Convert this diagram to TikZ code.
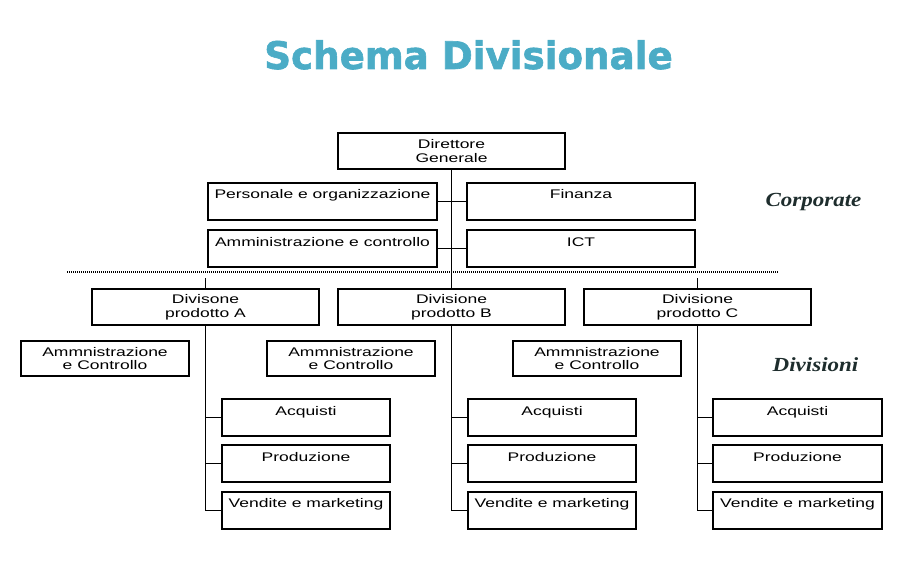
\documentclass[tikz,border=0pt]{standalone}
\usepackage{fontspec}
\setmainfont{Liberation Sans}
\newfontfamily\boxfont[FakeStretch=1.4]{Liberation Sans}
\newfontfamily\titlefont[BoldFeatures={FakeBold=1.6, FakeStretch=0.98}]{DejaVu Sans}
\newfontfamily\sidefont[FakeStretch=1.15]{Liberation Serif}
\usetikzlibrary{positioning,calc}
\definecolor{titleblue}{RGB}{75,172,198}
\definecolor{sidegray}{RGB}{30,45,45}

\tikzset{
  unitbox/.style={draw, line width=2pt, inner sep=0pt, font=\boxfont\fontsize{12.5}{13.6}\selectfont},
  twoline/.style={unitbox, align=center, minimum height=#1},
  oneline/.style={unitbox, text height=16pt, text depth=21pt},
  link/.style={line width=1pt},
  sidelabel/.style={font=\sidefont\bfseries\itshape\fontsize{20}{24}\selectfont, text=sidegray, anchor=base}
}

\begin{document}
\begin{tikzpicture}[x=1pt, y=-1pt]
  \useasboundingbox (0,0) rectangle (907,567);

  % Title
  \node[anchor=base, text=titleblue, font=\titlefont\bfseries\fontsize{38}{40}\selectfont] (title) at (468.5,69) {Schema Divisionale};

  % Corporate level
  \node[twoline=36pt, minimum width=227pt] (dg) at (451.5,151) {Direttore\\Generale};
  \node[oneline, minimum width=229pt] (pers) at (322.5,201) {Personale e organizzazione};
  \node[oneline, minimum width=228pt] (fin) at (581,201) {Finanza};
  \node[oneline, minimum width=229pt] (amm) at (322.5,248.5) {Amministrazione e controllo};
  \node[oneline, minimum width=228pt] (ict) at (581,248.5) {ICT};
  \node[sidelabel] (corp) at (813.5,206) {Corporate};

  % Separator
  \coordinate (sepL) at (67,272);
  \coordinate (sepR) at (778,272);
  \draw[line width=1.2pt, dash pattern=on 1pt off 1pt] (sepL) -- (sepR);

  % Divisions
  \node[twoline=36pt, minimum width=227pt] (divA) at (205.5,307) {Divisone\\prodotto A};
  \node[twoline=36pt, minimum width=227pt] (divB) at (451.5,307) {Divisione\\prodotto B};
  \node[twoline=36pt, minimum width=227pt] (divC) at (697.5,307) {Divisione\\prodotto C};
  \node[sidelabel] (divs) at (815.5,371) {Divisioni};

  \node[twoline=35pt, minimum width=168pt] (ctrlA) at (105,358.5) {Ammnistrazione\\e Controllo};
  \node[twoline=35pt, minimum width=168pt] (ctrlB) at (351,358.5) {Ammnistrazione\\e Controllo};
  \node[twoline=35pt, minimum width=168pt] (ctrlC) at (597,358.5) {Ammnistrazione\\e Controllo};

  \node[oneline, minimum width=168pt] (acqA) at (306,417.5) {Acquisti};
  \node[oneline, minimum width=168pt] (prodA) at (306,463.5) {Produzione};
  \node[oneline, minimum width=168pt] (vendA) at (306,510) {Vendite e marketing};

  \node[oneline, minimum width=168pt] (acqB) at (552,417.5) {Acquisti};
  \node[oneline, minimum width=168pt] (prodB) at (552,463.5) {Produzione};
  \node[oneline, minimum width=168pt] (vendB) at (552,510) {Vendite e marketing};

  \node[oneline, minimum width=169pt] (acqC) at (797.5,417.5) {Acquisti};
  \node[oneline, minimum width=169pt] (prodC) at (797.5,463.5) {Produzione};
  \node[oneline, minimum width=169pt] (vendC) at (797.5,510) {Vendite e marketing};

  % Connectors
  \draw[link] (dg.south) -- (divB.north);
  \draw[link] (pers.east) -- (fin.west);
  \draw[link] (amm.east) -- (ict.west);
  \coordinate (tickA) at ($(divA.north)+(0,-10)$);
  \coordinate (tickC) at ($(divC.north)+(0,-10)$);
  \draw[link] (tickA) -- (divA.north);
  \draw[link] (tickC) -- (divC.north);

  \draw[link] (divA.south) |- (acqA.west);
  \draw[link] (divA.south) |- (prodA.west);
  \draw[link] (divA.south) |- (vendA.west);
  \draw[link] (divB.south) |- (acqB.west);
  \draw[link] (divB.south) |- (prodB.west);
  \draw[link] (divB.south) |- (vendB.west);
  \draw[link] (divC.south) |- (acqC.west);
  \draw[link] (divC.south) |- (prodC.west);
  \draw[link] (divC.south) |- (vendC.west);
\end{tikzpicture}
\end{document}
